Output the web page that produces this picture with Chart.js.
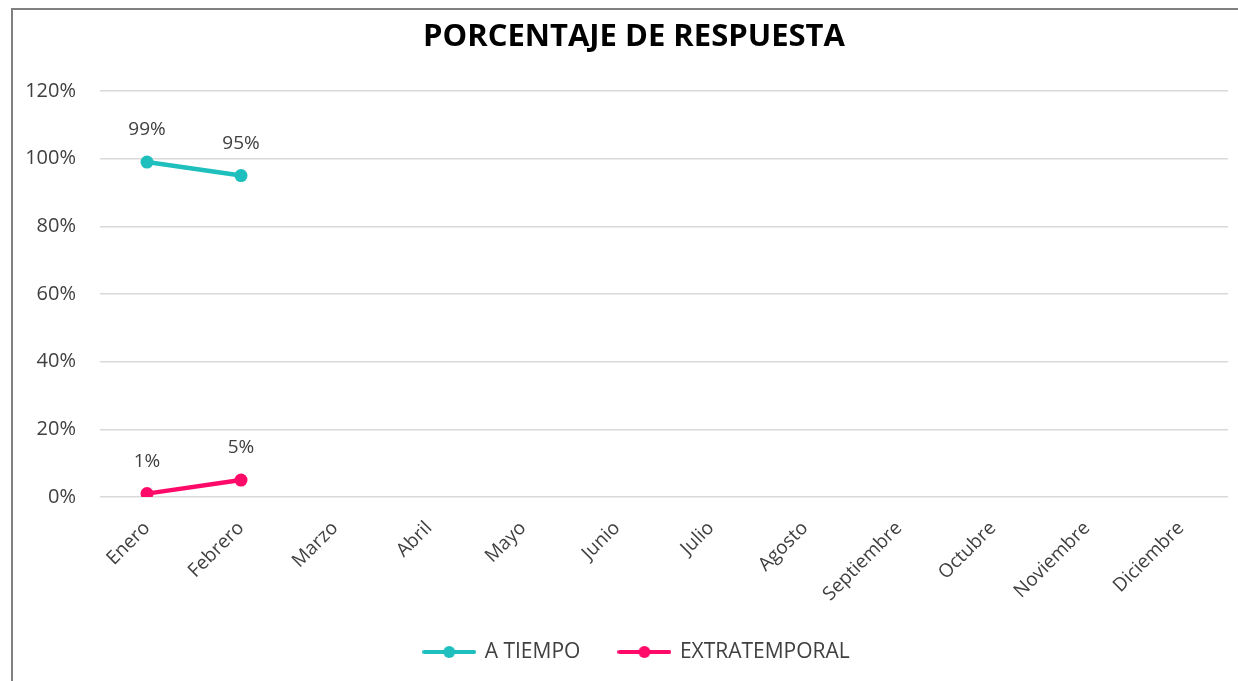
<!DOCTYPE html>
<html>
<head>
<meta charset="utf-8">
<script src="https://cdn.jsdelivr.net/npm/chart.js@4/dist/chart.umd.min.js"></script>
<style>
  html, body { margin: 0; padding: 0; background: #fff; }
  #wrap { position: relative; width: 1238px; height: 681px; overflow: hidden; }
  #frame { position: absolute; left: 11px; top: 8px; width: 1300px; height: 700px;
           border-left: 2px solid #808080; border-top: 2px solid #808080; pointer-events: none; }
  canvas { position: absolute; left: 0; top: 0; }
</style>
</head>
<body>
<div id="wrap">
  <canvas id="chart" width="1238" height="681"></canvas>
  <div id="frame"></div>
</div>
<script>
var months = ['Enero', 'Febrero', 'Marzo', 'Abril', 'Mayo', 'Junio', 'Julio',
              'Agosto', 'Septiembre', 'Octubre', 'Noviembre', 'Diciembre'];
var aTiempo = [99, 95, null, null, null, null, null, null, null, null, null, null];
var extratemporal = [1, 5, null, null, null, null, null, null, null, null, null, null];
var yTicks = [0, 20, 40, 60, 80, 100, 120];
var chartTitle = 'PORCENTAJE DE RESPUESTA';

var FONT = '"Open Sans", sans-serif';
var TEAL = '#1FBFBD';
var PINK = '#FF0A68';
var TEXT = '#404040';

// legend marker: short line with a dot in the middle
function legendMarker(color) {
    var c = document.createElement('canvas');
    c.width = 54;
    c.height = 14;
    var ctx = c.getContext('2d');
    ctx.strokeStyle = color;
    ctx.lineWidth = 4;
    ctx.lineCap = 'round';
    ctx.beginPath();
    ctx.moveTo(2, 7);
    ctx.lineTo(52, 7);
    ctx.stroke();
    ctx.fillStyle = color;
    ctx.beginPath();
    ctx.arc(27, 7, 6, 0, Math.PI * 2);
    ctx.fill();
    return c;
}

// title is drawn by hand so it can sit a bit right of the canvas centre
var titlePlugin = {
    id: 'titlePlugin',
    afterLayout: function (chart) {
        // legend sits centred under the plot area in the original, nudge it over
        chart.legend.left += 17;
        chart.legend.right += 17;
    },
    afterDraw: function (chart) {
        var ctx = chart.ctx;
        ctx.save();
        ctx.font = 'bold 31px ' + FONT;
        ctx.fillStyle = '#000';
        ctx.textAlign = 'center';
        ctx.textBaseline = 'middle';
        ctx.fillText(chartTitle, 634, 37);
        ctx.restore();
    }
};

var valueLabels = {
    id: 'valueLabels',
    afterDatasetsDraw: function (chart) {
        var ctx = chart.ctx;
        ctx.save();
        ctx.font = '19px ' + FONT;
        ctx.fillStyle = TEXT;
        ctx.textAlign = 'center';
        ctx.textBaseline = 'middle';
        chart.data.datasets.forEach(function (ds, i) {
            chart.getDatasetMeta(i).data.forEach(function (pt, j) {
                if (ds.data[j] == null) return;
                ctx.fillText(ds.data[j] + '%', pt.x, pt.y - 32);
            });
        });
        ctx.restore();
    }
};

new Chart(document.getElementById('chart').getContext('2d'), {
    type: 'line',
    data: {
        labels: months,
        datasets: [{
            label: 'A TIEMPO',
            data: aTiempo,
            borderColor: TEAL,
            backgroundColor: TEAL,
            borderWidth: 4.5,
            pointRadius: 6.5,
            pointBorderWidth: 0,
            pointStyle: 'circle',
            tension: 0
        },
        {
            label: 'EXTRATEMPORAL',
            data: extratemporal,
            borderColor: PINK,
            backgroundColor: PINK,
            borderWidth: 4.5,
            pointRadius: 6.5,
            pointBorderWidth: 0,
            pointStyle: 'circle',
            tension: 0
        }]
    },
    options: {
        responsive: false,
        animation: false,
        devicePixelRatio: 1,
        layout: { padding: { left: 12, right: 10, top: 91, bottom: 8.5 } },
        plugins: {
            title: { display: false },
            legend: {
                position: 'bottom',
                labels: {
                    color: TEXT,
                    font: { family: FONT, size: 21 },
                    usePointStyle: true,
                    pointStyleWidth: 50,
                    padding: 39,
                    generateLabels: function (chart) {
                        return chart.data.datasets.map(function (ds, i) {
                            return {
                                text: ds.label,
                                pointStyle: legendMarker(ds.borderColor),
                                fillStyle: ds.borderColor,
                                strokeStyle: ds.borderColor,
                                lineWidth: 0,
                                fontColor: TEXT,
                                datasetIndex: i
                            };
                        });
                    }
                }
            },
            tooltip: { enabled: false }
        },
        scales: {
            x: {
                offset: true,
                grid: { display: false },
                border: { display: false },
                ticks: {
                    autoSkip: false,
                    minRotation: 45,
                    maxRotation: 45,
                    padding: 12,
                    color: TEXT,
                    font: { family: FONT, size: 19 }
                },
                afterFit: function (s) { s.height = 105.5; }
            },
            y: {
                min: 0,
                max: 120,
                afterBuildTicks: function (s) {
                    s.ticks = yTicks.map(function (v) { return { value: v }; });
                },
                grid: { color: '#D9D9D9', lineWidth: 1.5, drawTicks: false },
                border: { display: false },
                ticks: {
                    padding: 24,
                    color: TEXT,
                    font: { family: FONT, size: 20 },
                    callback: function (v) { return v + '%'; }
                },
                afterFit: function (s) { s.width = 88; }
            }
        }
    },
    plugins: [valueLabels, titlePlugin]
});
</script>
</body>
</html>
